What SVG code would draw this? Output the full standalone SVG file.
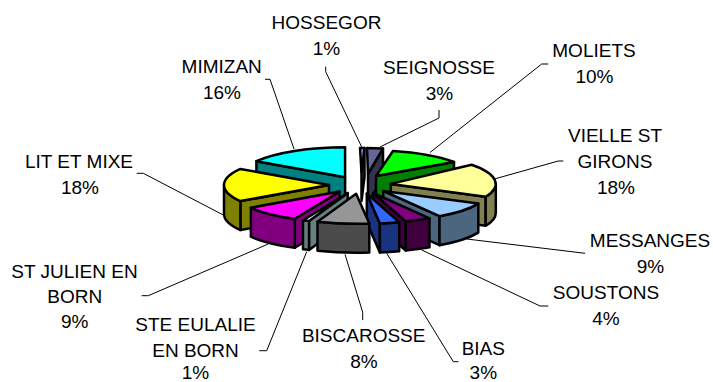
<svg xmlns="http://www.w3.org/2000/svg" width="713" height="382" viewBox="0 0 713 382">
<style>
.s{stroke:#000;stroke-width:2.5;stroke-linejoin:round}
.ld{fill:none;stroke:#000;stroke-width:1}
text{font-family:"Liberation Sans",Arial,sans-serif;font-size:19px;fill:#000;text-anchor:middle}
</style>
<rect width="713" height="382" fill="#fff"/>
<g id="connectors">
<polyline class="ld" points="325.7,66.7 325.7,71.7 361.7,147"/>
<polyline class="ld" points="439,110 439,118 380,147"/>
<polyline class="ld" points="548.3,64 541.7,64 430,152.5"/>
<polyline class="ld" points="563.3,161 558.3,161 493.3,179.3"/>
<polyline class="ld" points="585,253.3 466.7,239"/>
<polyline class="ld" points="548.3,306 540,306 421.7,250"/>
<polyline class="ld" points="458.3,361.7 453.3,361.7 386.7,253.3"/>
<polyline class="ld" points="362.7,320 362.7,312.3 345,254.3"/>
<polyline class="ld" points="259.3,350.7 266.7,350.7 306.7,251.7"/>
<polyline class="ld" points="141.7,295.7 148.3,295.7 268.3,244"/>
<polyline class="ld" points="136.7,173.3 143.3,173.3 223.3,215"/>
<polyline class="ld" points="265,79.3 270,79.3 294,149"/>
</g>
<g id="hossegor">
<path class="s" fill="#4D4D80" d="M361.5,172 L364.5,148 L364.5,177 L361.5,201 Z"/>
<path class="s" fill="#9999FF" d="M361.5,172 L360,148 L364.5,148 Z"/>
<text x="326.5" y="29.3">HOSSEGOR</text><text x="326.5" y="55">1%</text>
</g>
<g id="seignosse">
<path class="s" fill="#33334D" d="M368,174 L383,148.5 L383,177.5 L368,203 Z"/>
<path class="s" fill="#666699" d="M368,174 L367,148 A105 30 0 0 1 383,148.5 Z"/>
<text x="439" y="74">SEIGNOSSE</text><text x="439.5" y="100">3%</text>
</g>
<g id="mimizan">
<path class="s" fill="#008080" d="M345.1,177.2 L256.4,161.2 L256.4,190.2 L345.1,206.2 Z"/>
<path class="s" fill="#00FFFF" d="M345.1,177.2 L256.4,161.2 A105 30 0 0 1 345.1,147.2 Z"/>
<text x="221.7" y="72.7">MIMIZAN</text><text x="222" y="99">16%</text>
</g>
<g id="moliets">
<path class="s" fill="#008000" d="M376,176 L454,162 L454,191 L376,205 Z"/>
<path class="s" fill="#00FF00" d="M376,176 L393,151 A105 30 0 0 1 454,162 Z"/>
<text x="594" y="56.7">MOLIETS</text><text x="594.5" y="83.3">10%</text>
</g>
<g id="vielle-st-girons">
<path class="s" fill="#808050" d="M390.8,183.9 L485.7,196.7 L485.7,225.7 L390.8,212.9 Z"/>
<path class="s" fill="#808050" d="M495.8,183.9 A105 30 0 0 1 485.7,196.7 L485.7,225.7 A105 30 0 0 0 495.8,212.9 Z"/>
<path class="s" fill="#FFFF99" d="M390.8,183.9 L471.6,164.8 A105 30 0 0 1 485.7,196.7 Z"/>
<text x="615" y="141.7">VIELLE ST</text><text x="615" y="167.7">GIRONS</text><text x="616" y="194">18%</text>
</g>
<g id="lit-et-mixe">
<path class="s" fill="#808000" d="M329,185 L240.4,201.1 L240.4,230.1 L329,214 Z"/>
<path class="s" fill="#808000" d="M240.4,201.1 A105 30 0 0 1 224,185 L224,214 A105 30 0 0 0 240.4,230.1 Z"/>
<path class="s" fill="#FFFF00" d="M329,185 L240.4,201.1 A105 30 0 0 1 240.4,168.9 Z"/>
<text x="79" y="168.3">LIT ET MIXE</text><text x="80" y="194">18%</text>
</g>
<g id="messanges">
<path class="s" fill="#4D6680" d="M383.3,190.9 L439.5,216.2 L439.5,245.2 L383.3,219.9 Z"/>
<path class="s" fill="#4D6680" d="M478.3,203.6 A105 30 0 0 1 439.5,216.2 L439.5,245.2 A105 30 0 0 0 478.3,232.6 Z"/>
<path class="s" fill="#99CCFF" d="M383.3,190.9 L478.3,203.6 A105 30 0 0 1 439.5,216.2 Z"/>
<text x="650" y="246.7">MESSANGES</text><text x="650.5" y="273.3">9%</text>
</g>
<g id="st-julien-en-born">
<path class="s" fill="#800080" d="M339.5,191.6 L294.8,218.8 L294.8,247.8 L339.5,220.6 Z"/>
<path class="s" fill="#800080" d="M294.8,218.8 A105 30 0 0 1 250.9,207.7 L250.9,236.7 A105 30 0 0 0 294.8,247.8 Z"/>
<path class="s" fill="#FF00FF" d="M339.5,191.6 L294.8,218.8 A105 30 0 0 1 250.9,207.7 Z"/>
<text x="74.5" y="277.7">ST JULIEN EN</text><text x="74.7" y="303.3">BORN</text><text x="74.7" y="328.3">9%</text>
</g>
<g id="soustons">
<path class="s" fill="#400040" d="M373.2,193 L405.7,221.5 L405.7,250.5 L373.2,222 Z"/>
<path class="s" fill="#400040" d="M429.5,218.3 A105 30 0 0 1 405.7,221.5 L405.7,250.5 A105 30 0 0 0 429.5,247.3 Z"/>
<path class="s" fill="#800080" d="M373.2,193 L429.5,218.3 A105 30 0 0 1 405.7,221.5 Z"/>
<text x="606" y="299">SOUSTONS</text><text x="606" y="325">4%</text>
</g>
<g id="ste-eulalie-en-born">
<path class="s" fill="#668080" d="M347.7,193.1 L309,221 L309,250 L347.7,222.1 Z"/>
<path class="s" fill="#668080" d="M309,221 A105 30 0 0 1 303,220.3 L303,249.3 A105 30 0 0 0 309,250 Z"/>
<path class="s" fill="#CCFFFF" d="M347.7,193.1 L309,221 A105 30 0 0 1 303,220.3 Z"/>
<text x="195.5" y="330.7">STE EULALIE</text><text x="195.5" y="356.7">EN BORN</text><text x="195.5" y="379">1%</text>
</g>
<g id="bias">
<path class="s" fill="#1A3380" d="M366.8,193.6 L379.9,223.4 L379.9,252.4 L366.8,222.6 Z"/>
<path class="s" fill="#1A3380" d="M399.2,222.2 A105 30 0 0 1 379.9,223.4 L379.9,252.4 A105 30 0 0 0 399.2,251.2 Z"/>
<path class="s" fill="#3366FF" d="M366.8,193.6 L399.2,222.2 A105 30 0 0 1 379.9,223.4 Z"/>
<text x="483.3" y="355">BIAS</text><text x="483.3" y="378.5">3%</text>
</g>
<g id="biscarosse">
<path class="s" fill="#4B4B4B" d="M369.3,223.6 A105 30 0 0 1 317.5,221.7 L317.5,250.7 A105 30 0 0 0 369.3,252.6 Z"/>
<path class="s" fill="#969696" d="M356.1,193.8 L369.3,223.6 A105 30 0 0 1 317.5,221.7 Z"/>
<text x="363.7" y="342.3">BISCAROSSE</text><text x="364" y="368.3">8%</text>
</g>
</svg>
